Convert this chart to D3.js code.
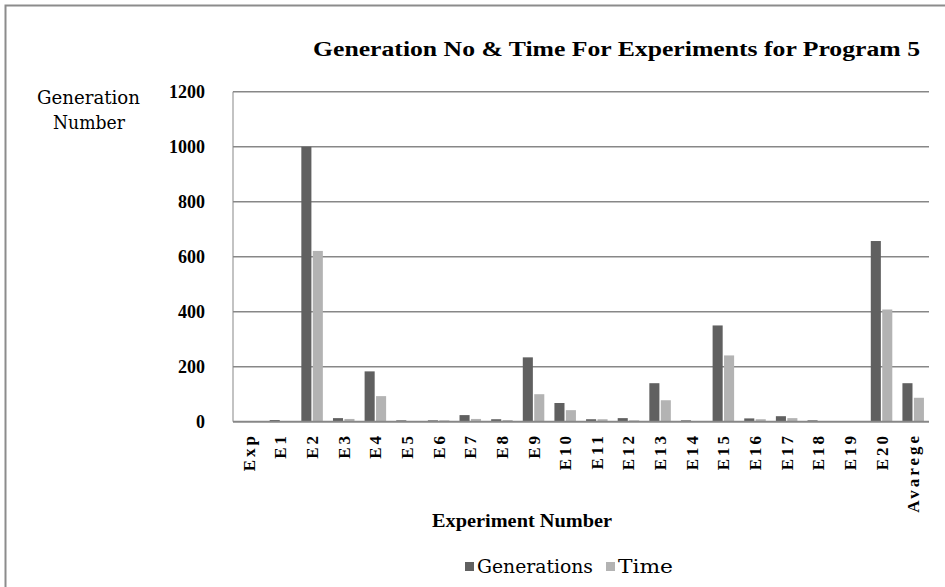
<!DOCTYPE html>
<html>
<head>
<meta charset="utf-8">
<script src="https://cdn.jsdelivr.net/npm/d3@7"></script>
<style>
  body { margin: 0; background: #fff; }
  svg text { font-family: "Liberation Serif", "Times New Roman", "DejaVu Serif", serif; fill: #000; }
  svg text.plain { font-family: "DejaVu Serif", "Liberation Serif", serif; }
</style>
</head>
<body>
<script>
// chart data
var categories = ["Exp", "E1", "E2", "E3", "E4", "E5", "E6", "E7", "E8", "E9", "E10",
  "E11", "E12", "E13", "E14", "E15", "E16", "E17", "E18", "E19", "E20", "Avarege"];
var generations = [0, 6, 1000, 13, 183, 5, 5, 24, 9, 234, 68, 9, 13, 140, 5, 350, 12, 20, 5, 0, 657, 140];
var time = [0, 0, 621, 10, 93, 0, 5, 10, 6, 100, 42, 9, 5, 78, 0, 241, 9, 13, 0, 0, 408, 87];
var seriesNames = ["Generations", "Time"];
var yTicks = [0, 200, 400, 600, 800, 1000, 1200];

var width = 945;
var height = 587;
var colors = {"Generations": "#606060", "Time": "#b3b3b3"};
var gridColor = "#878787";

var svg = d3.select("body").append("svg")
    .attr("width", width)
    .attr("height", height);

// outer frame (only left and top edges show in the picture)
svg.append("path")
    .attr("d", "M5.5," + height + "V5.5H" + width)
    .attr("fill", "none")
    .attr("stroke", "#8c8c8c")
    .attr("stroke-width", 2);

var plotLeft = 233, plotRight = 929, plotTop = 91.7, plotBottom = 421.7;

var y = d3.scaleLinear().domain([0, 1200]).range([plotBottom, plotTop]);

var x0 = d3.scaleBand()
    .domain(categories)
    .range([plotLeft, plotRight])
    .paddingInner(0.32)
    .paddingOuter(0.16);

var x1 = d3.scaleBand()
    .domain(seriesNames)
    .range([0, x0.bandwidth()])
    .paddingInner(0.12);

//gridlines
svg.selectAll(".grid").data(yTicks.filter(function (d) { return d > 0; }))
    .enter().append("line")
    .classed("grid", true)
    .attr("x1", plotLeft)
    .attr("x2", plotRight)
    .attr("y1", function (d) { return y(d); })
    .attr("y2", function (d) { return y(d); })
    .attr("stroke", gridColor)
    .attr("stroke-width", 1.5);

//vertical axis line
svg.append("line")
    .attr("x1", plotLeft).attr("x2", plotLeft)
    .attr("y1", plotTop).attr("y2", plotBottom)
    .attr("stroke", gridColor)
    .attr("stroke-width", 1);

// y tick labels
svg.selectAll(".ylab").data(yTicks)
    .enter().append("text")
    .classed("ylab", true)
    .attr("x", 205)
    .attr("y", function (d) { return y(d) + 6; })
    .attr("text-anchor", "end")
    .style("font-size", "18px")
    .style("font-weight", "bold")
    .text(function (d) { return d; });

// bars
var rows = categories.map(function (c, i) {
    return {cat: c, values: [
        {name: "Generations", value: generations[i]},
        {name: "Time", value: time[i]}
    ]};
});

var groups = svg.selectAll(".cat").data(rows)
    .enter().append("g")
    .classed("cat", true)
    .attr("transform", function (d) { return "translate(" + x0(d.cat) + ",0)"; });

groups.selectAll("rect").data(function (d) { return d.values; })
    .enter().append("rect")
    .attr("x", function (d) { return x1(d.name); })
    .attr("width", x1.bandwidth())
    .attr("y", function (d) { return y(d.value); })
    .attr("height", function (d) { return plotBottom - y(d.value); })
    .attr("fill", function (d) { return colors[d.name]; });

//baseline
svg.append("line")
    .attr("x1", plotLeft).attr("x2", plotRight)
    .attr("y1", plotBottom).attr("y2", plotBottom)
    .attr("stroke", gridColor)
    .attr("stroke-width", 2);

// category labels, rotated
svg.selectAll(".xlab").data(categories)
    .enter().append("text")
    .classed("xlab", true)
    .attr("transform", function (d) {
        return "translate(" + (x0(d) + x0.bandwidth() / 2 + 6) + "," + 433 + ") rotate(-90)";
    })
    .attr("text-anchor", "end")
    .style("font-size", "17px")
    .style("font-weight", "bold")
    .style("letter-spacing", "3px")
    .text(function (d) { return d; });

// title
svg.append("text")
    .attr("x", 313)
    .attr("y", 56)
    .attr("textLength", 607)
    .attr("lengthAdjust", "spacingAndGlyphs")
    .style("font-size", "20px")
    .style("font-weight", "bold")
    .text("Generation No & Time For Experiments for Program  5");

// y axis title
var yTitle = svg.append("text")
    .classed("plain", true)
    .style("font-size", "18px");
yTitle.append("tspan").attr("x", 37).attr("y", 104)
    .attr("textLength", 103).attr("lengthAdjust", "spacingAndGlyphs").text("Generation");
yTitle.append("tspan").attr("x", 53).attr("y", 129)
    .attr("textLength", 72).attr("lengthAdjust", "spacingAndGlyphs").text("Number");

// x axis title
svg.append("text")
    .attr("x", 432)
    .attr("y", 527)
    .attr("textLength", 180)
    .attr("lengthAdjust", "spacingAndGlyphs")
    .style("font-size", "19px")
    .style("font-weight", "bold")
    .text("Experiment Number");

// legend
var legendX = [465, 606];
var legendW = [116, 55];
var legend = svg.selectAll(".legend").data(seriesNames)
    .enter().append("g")
    .classed("legend", true)
    .attr("transform", function (d, i) { return "translate(" + legendX[i] + ",562)"; });

legend.append("rect")
    .attr("width", 9)
    .attr("height", 9)
    .attr("fill", function (d) { return colors[d]; });

legend.append("text")
    .classed("plain", true)
    .attr("x", 12)
    .attr("y", 11)
    .attr("textLength", function (d, i) { return legendW[i]; })
    .attr("lengthAdjust", "spacingAndGlyphs")
    .style("font-size", "18px")
    .text(function (d) { return d; });
</script>
</body>
</html>
